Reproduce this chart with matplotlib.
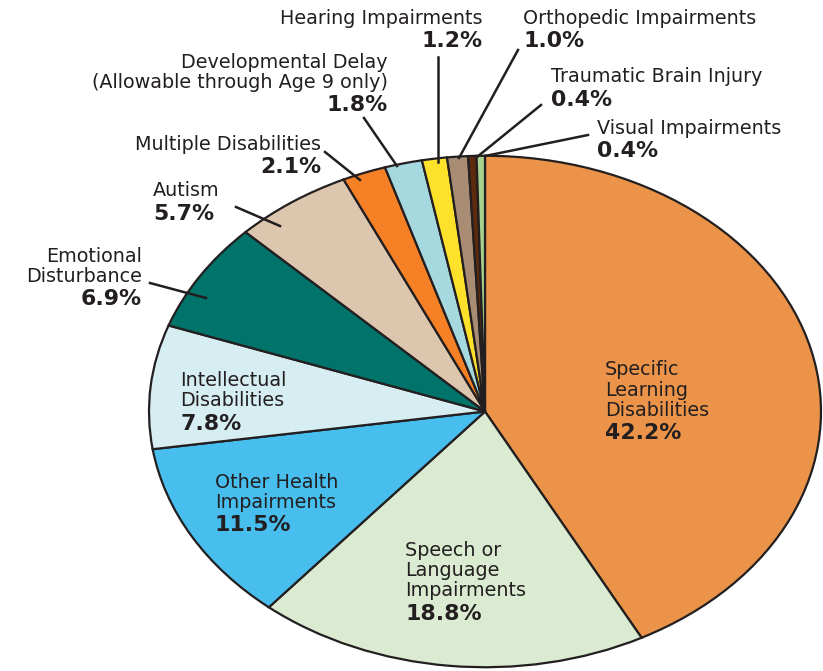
import matplotlib
matplotlib.use("Agg")
import matplotlib.pyplot as plt

categories = ["Specific Learning Disabilities", "Speech or Language Impairments",
              "Other Health Impairments", "Intellectual Disabilities",
              "Emotional Disturbance", "Autism", "Multiple Disabilities",
              "Developmental Delay", "Hearing Impairments", "Orthopedic Impairments",
              "Traumatic Brain Injury", "Visual Impairments"]
values = [42.2, 18.8, 11.5, 7.8, 6.9, 5.7, 2.1, 1.8, 1.2, 1.0, 0.4, 0.4]
colors = ["#EB9449", "#DAEBD1", "#47BEEE", "#D6EDF2", "#00736A", "#DDC6AE",
          "#F58025", "#A6D8E0", "#FEE12B", "#A88C74", "#5C2A0C", "#A9D18E"]
label_text = ["Specific\nLearning\nDisabilities", "Speech or\nLanguage\nImpairments",
              "Other Health\nImpairments", "Intellectual\nDisabilities",
              "Emotional\nDisturbance", "Autism", "Multiple Disabilities",
              "Developmental Delay\n(Allowable through Age 9 only)",
              "Hearing Impairments", "Orthopedic Impairments",
              "Traumatic Brain Injury", "Visual Impairments"]

W, H = 823, 671
DARK = "#231F20"
fig = plt.figure(figsize=(W / 100, H / 100), dpi=100)
plt.rcParams['font.family'] = ['DejaVu Sans']

# pie axes spanning the (elliptical) pie
px_l, px_r, px_t, px_b = 148, 822, 155, 668
ax = fig.add_axes([px_l / W, 1 - px_b / H, (px_r - px_l) / W, (px_b - px_t) / H])
ax.pie(values, colors=colors, startangle=90, counterclock=False,
       wedgeprops=dict(edgecolor=DARK, linewidth=1.6))
ax.set_aspect('auto')
ax.set_xlim(-1.003, 1.003)
ax.set_ylim(-1.003, 1.003)
ax.axis('off')

FS = 13.8

def px(x, y):
    return x / W, 1 - y / H

layout = {
    "Specific Learning Disabilities": (605, 370, 'left'),
    "Speech or Language Impairments": (405, 551, 'left'),
    "Other Health Impairments": (215, 482, 'left'),
    "Intellectual Disabilities": (180, 381, 'left'),
    "Emotional Disturbance": (142, 256, 'right'),
    "Autism": (153, 191, 'left'),
    "Multiple Disabilities": (321, 144, 'right'),
    "Developmental Delay": (388, 62, 'right'),
    "Hearing Impairments": (483, 18, 'right'),
    "Orthopedic Impairments": (523, 18, 'left'),
    "Traumatic Brain Injury": (551, 77, 'left'),
    "Visual Impairments": (597, 128, 'left'),
}
LS = 20.0
for cat, txt, v in zip(categories, label_text, values):
    x, y, ha = layout[cat]
    lines = txt.split("\n")
    for i, ln in enumerate(lines):
        fig.text(*px(x, y + i * LS), ln, ha=ha, va='center', fontsize=FS, color=DARK)
    fig.text(*px(x, y + len(lines) * LS + 3), f"{v:.1f}%", ha=ha, va='center',
             fontsize=FS + 2.0, fontweight='bold', color=DARK)

leaders = [
    ((438, 57), (438, 162)),
    ((518, 50), (459, 158)),
    ((541, 105), (477, 157)),
    ((588, 135), (485, 156)),
    ((364, 118), (397, 166)),
    ((325, 152), (360, 180)),
    ((236, 207), (280, 226)),
    ((150, 283), (206, 298)),
]
for (x0, y0), (x1, y1) in leaders:
    a, b = px(x0, y0)
    c, d = px(x1, y1)
    fig.add_artist(plt.Line2D([a, c], [b, d], color=DARK, linewidth=1.8,
                              transform=fig.transFigure))

fig.savefig("out.png", dpi=100)
